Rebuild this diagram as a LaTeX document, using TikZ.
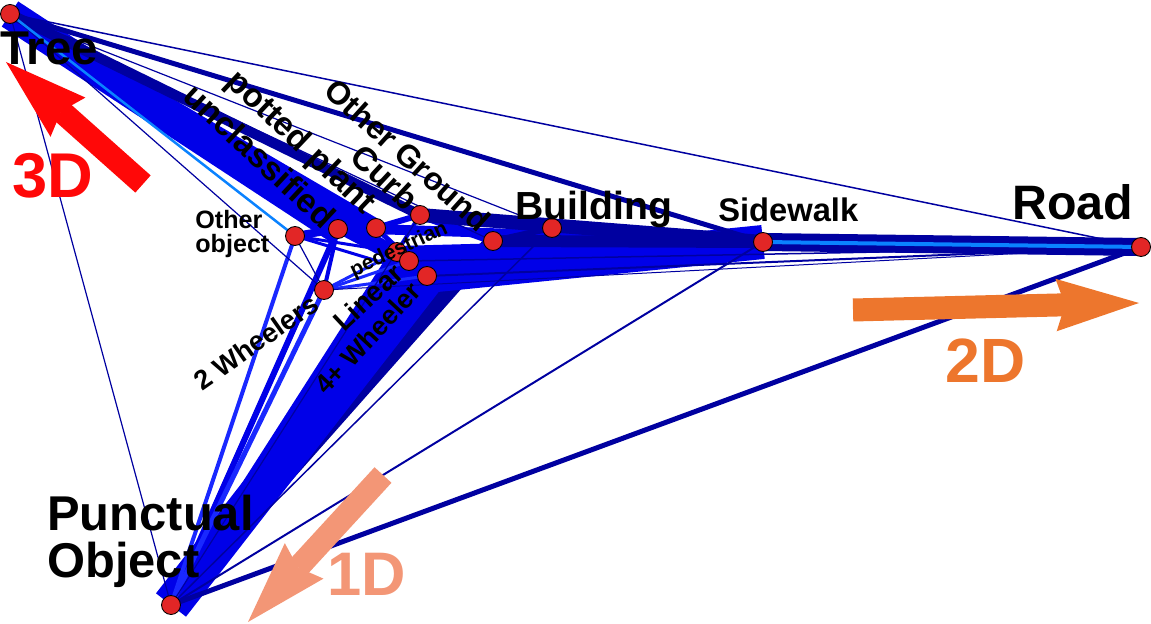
\documentclass[tikz,border=0pt]{standalone}
\usepackage{fontspec}
\setmainfont{Liberation Sans}
\usepackage{xcolor}
\usepackage{tikz}
\usetikzlibrary{
  arrows.meta,
  positioning,
  backgrounds
}
\definecolor{edgenavy}{RGB}{0,0,160}
\definecolor{edgeblue}{RGB}{0,0,232}
\definecolor{edgebright}{RGB}{25,40,255}
\definecolor{edgelight}{RGB}{10,130,255}
\definecolor{vertexred}{RGB}{226,38,38}
\definecolor{dimthree}{RGB}{255,8,8}
\definecolor{dimtwo}{RGB}{237,118,45}
\definecolor{dimone}{RGB}{243,150,118}

\newcommand{\fsz}[1]{\fontsize{#1}{#1}\selectfont\bfseries}

\tikzset{
  vertex/.style={circle, draw=black, fill=vertexred, line width=0.5pt,
    minimum size=0.38cm, inner sep=0pt},
  navyedge/.style={draw=edgenavy, line width=#1*0.02cm},
  blueedge/.style={draw=edgeblue, line width=#1*0.02cm},
  brightedge/.style={draw=edgebright, line width=#1*0.02cm},
  lightedge/.style={draw=edgelight, line width=#1*0.02cm},
  lbl/.style={inner sep=0pt, text=black},
  dimarrow/.style={line width=0.46cm,
    -{Stealth[length=1.66cm, width=1.05cm, inset=0.18cm, line width=0pt]}}
}

\begin{document}
\begin{tikzpicture}[x=0.02cm, y=-0.02cm]
  \useasboundingbox (0,0) rectangle (1151,624);

  % classes
  \node[vertex] (tree) at (10,14) {};
  \node[vertex] (road) at (1141,247) {};
  \node[vertex] (punct) at (171,605) {};
  \node[vertex] (sidewalk) at (763,242) {};
  \node[vertex] (building) at (552,228) {};
  \node[vertex] (otherground) at (493,241) {};
  \node[vertex] (curb) at (420,215) {};
  \node[vertex] (potted) at (376,228) {};
  \node[vertex] (unclass) at (338,229) {};
  \node[vertex] (otherobj) at (295,236) {};
  \node[vertex] (pedestrian) at (397,252) {};
  \node[vertex] (linear) at (409,261) {};
  \node[vertex] (fourwheel) at (427,276) {};
  \node[vertex] (twowheel) at (324,290) {};

  % links
  \begin{scope}[on background layer]
    \draw[navyedge=16] (punct.center) -- (otherground.center);
    \foreach \a/\b/\w in {tree/unclass/30, tree/potted/18, tree/pedestrian/8,
        tree/fourwheel/8, tree/linear/6, punct/fourwheel/38, punct/linear/20,
        punct/pedestrian/12, punct/unclass/6, fourwheel/sidewalk/34,
        linear/sidewalk/16, pedestrian/sidewalk/12, unclass/sidewalk/8,
        potted/sidewalk/8, otherobj/unclass/8, unclass/potted/8, potted/curb/6,
        unclass/pedestrian/6, unclass/fourwheel/8, potted/fourwheel/5,
        curb/pedestrian/4, pedestrian/fourwheel/5, curb/otherground/8,
        otherobj/fourwheel/3, otherobj/pedestrian/3, unclass/twowheel/4}
      \draw[blueedge=\w] (\a.center) -- (\b.center);
    \foreach \a/\b/\w in {punct/twowheel/5, punct/otherobj/4,
        twowheel/pedestrian/3, twowheel/linear/3, twowheel/fourwheel/3}
      \draw[brightedge=\w] (\a.center) -- (\b.center);
    \foreach \a/\b/\w in {tree/road/1.5, tree/sidewalk/5, tree/curb/10,
        tree/otherground/1.2, tree/building/1.2, tree/twowheel/1.2,
        tree/punct/1.2, curb/sidewalk/14, otherground/sidewalk/12,
        building/sidewalk/8, otherground/building/6, sidewalk/road/18,
        punct/road/5, punct/sidewalk/2, punct/building/1.5,
        punct/curb/1.2, otherobj/twowheel/1.2,
        fourwheel/road/2, linear/road/1.5, twowheel/road/1}
      \draw[navyedge=\w] (\a.center) -- (\b.center);
    \foreach \a/\b/\w in {tree/otherobj/2.5, sidewalk/road/4}
      \draw[lightedge=\w] (\a.center) -- (\b.center);
  \end{scope}

  % class names
  \node[lbl, anchor=base west, font=\fsz{27}] (treelbl) at (0,65) {Tree};
  \node[lbl, anchor=base west, font=\fsz{27.5}] (roadlbl) at (1012,220) {Road};
  \node[lbl, anchor=base west, font=\fontsize{27.8}{26.5}\selectfont\bfseries,
    align=left] (punctlbl) at (47,577) {Punctual\\Object};
  \node[lbl, anchor=base west, font=\fsz{22.3}] (buildinglbl) at (515,220) {Building};
  \node[lbl, anchor=base west, font=\fsz{18.6}] (sidewalklbl) at (718,222) {Sidewalk};
  \node[lbl, anchor=base west, font=\fontsize{14.3}{14.2}\selectfont\bfseries,
    align=left] (otherobjlbl) at (195,253) {Other\\object};
  \node[lbl, rotate=-42, font=\fsz{18.2}] (othergroundlbl) at (408,155) {Other Ground};
  \node[lbl, rotate=-43.5, font=\fsz{19}] (pottedlbl) at (300,143) {potted plant};
  \node[lbl, rotate=-43, font=\fsz{19}] (unclasslbl) at (260,156) {unclassified};
  \node[lbl, rotate=-43, font=\fsz{19}] (curblbl) at (385,177) {Curb};
  \node[lbl, rotate=25, font=\fsz{11.8}] (pedestrianlbl) at (399,250) {pedestrian};
  \node[lbl, rotate=43, font=\fsz{15.8}] (linearlbl) at (368,297) {Linear};
  \node[lbl, rotate=47, font=\fsz{15.1}] (fourwheellbl) at (368,338) {4+ Wheeler};
  \node[lbl, rotate=35, font=\fsz{15.5}] (twowheellbl) at (256,342) {2 Wheelers};

  % dimensions
  \coordinate (threefrom) at (143,184);
  \coordinate (threeto) at (6,62);
  \coordinate (twofrom) at (853,310);
  \coordinate (twoto) at (1139,303);
  \coordinate (onefrom) at (383,475);
  \coordinate (oneto) at (248,622);
  \draw[dimarrow, draw=dimthree, fill=dimthree] (threefrom) -- (threeto);
  \draw[dimarrow, draw=dimtwo, fill=dimtwo] (twofrom) -- (twoto);
  \draw[dimarrow, draw=dimone, fill=dimone] (onefrom) -- (oneto);
  \node[lbl, anchor=base west, text=dimthree, font=\fsz{36}] (threelbl) at (12,198) {3D};
  \node[lbl, anchor=base west, text=dimtwo, font=\fsz{35.6}] (twolbl) at (945,382) {2D};
  \node[lbl, anchor=base west, text=dimone, font=\fsz{35}] (onelbl) at (327,595) {1D};
\end{tikzpicture}
\end{document}
